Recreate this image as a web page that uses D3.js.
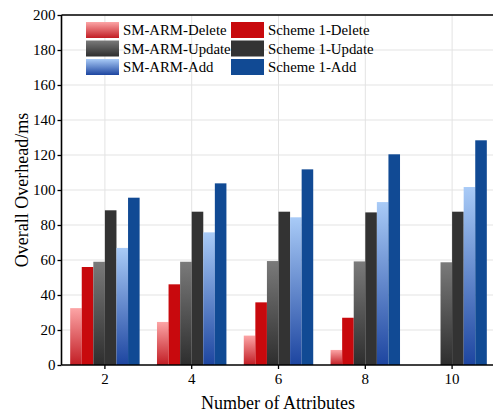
<!DOCTYPE html>
<html><head><meta charset="utf-8">
<script src="https://cdn.jsdelivr.net/npm/d3@7"></script>
<style>body{margin:0;background:#fff;} svg{display:block;}</style>
</head><body>
<script>
const categories = ["2", "4", "6", "8", "10"];
const seriesNames = ["SM-ARM-Delete", "Scheme 1-Delete", "SM-ARM-Update", "Scheme 1-Update", "SM-ARM-Add", "Scheme 1-Add"];
const smDelete = [32.5, 24.6, 16.8, 8.6, 0];
const s1Delete = [56, 46.1, 35.8, 27, 0];
const smUpdate = [59, 59, 59.4, 59.2, 58.7];
const s1Update = [88.4, 87.6, 87.6, 87.2, 87.6];
const smAdd = [66.9, 75.8, 84.4, 93.1, 101.7];
const s1Add = [95.6, 103.8, 111.8, 120.4, 128.4];
const yTicks = [0, 20, 40, 60, 80, 100, 120, 140, 160, 180, 200];
const legendOrder = ["SM-ARM-Delete", "SM-ARM-Update", "SM-ARM-Add", "Scheme 1-Delete", "Scheme 1-Update", "Scheme 1-Add"];

const seriesValues = [smDelete, s1Delete, smUpdate, s1Update, smAdd, s1Add];
const W = 493, H = 415;
const m = {left: 61.5, right: -2.5, top: 15, bottom: 50};
const svg = d3.select("body").append("svg").attr("width", W).attr("height", H);
const defs = svg.append("defs");
const grads = [
  ["g0", "#fca5a6", "#c21d24"],
  ["g2", "#7a7a7a", "#2e2e2e"],
  ["g4", "#a9cbf7", "#1d45a0"]
];
grads.forEach(([id, c1, c2]) => {
  const g = defs.append("linearGradient").attr("id", id).attr("x1", 0).attr("y1", 0).attr("x2", 0).attr("y2", 1);
  g.append("stop").attr("offset", "0%").attr("stop-color", c1);
  g.append("stop").attr("offset", "100%").attr("stop-color", c2);
});
const fills = {"SM-ARM-Delete": "url(#g0)", "Scheme 1-Delete": "#c8090d", "SM-ARM-Update": "url(#g2)",
  "Scheme 1-Update": "#333333", "SM-ARM-Add": "url(#g4)", "Scheme 1-Add": "#114a94"};

const x0 = d3.scaleBand().domain(categories).range([m.left, W - m.right]).paddingInner(0).paddingOuter(0);
const x1 = d3.scaleBand().domain(seriesNames).range([0, x0.bandwidth() * 0.8]);
const y = d3.scaleLinear().domain([0, 200]).range([H - m.bottom, m.top]);

const font = "'Liberation Serif', 'Times New Roman', serif";
// grid
svg.append("g").selectAll("line").data(yTicks.slice(1)).join("line")
  .attr("x1", m.left).attr("x2", W).attr("y1", d => y(d)).attr("y2", d => y(d))
  .attr("stroke", "#e3e3e3").attr("stroke-width", 1);
svg.append("g").selectAll("line").data(categories).join("line")
  .attr("x1", d => x0(d) + x0.bandwidth() / 2).attr("x2", d => x0(d) + x0.bandwidth() / 2)
  .attr("y1", m.top).attr("y2", H - m.bottom)
  .attr("stroke", "#e3e3e3").attr("stroke-width", 1);

// bars
const groups = svg.append("g").selectAll("g").data(categories).join("g")
  .attr("transform", d => `translate(${x0(d) + x0.bandwidth() * 0.1},0)`);
groups.selectAll("rect").data((c, i) => seriesNames.map((s, j) => ({s, v: seriesValues[j][i]})))
  .join("rect")
  .attr("x", d => x1(d.s)).attr("width", x1.bandwidth())
  .attr("y", d => y(d.v)).attr("height", d => y(0) - y(d.v))
  .attr("fill", d => fills[d.s]);

// axes
const yAxis = svg.append("g").attr("transform", `translate(${m.left},0)`)
  .call(d3.axisLeft(y).tickValues(yTicks).tickSize(4).tickPadding(2).tickFormat(d3.format("d")));
const xAxis = svg.append("g").attr("transform", `translate(0,${H - m.bottom})`)
  .call(d3.axisBottom(x0).tickSize(4).tickPadding(4));
[yAxis, xAxis].forEach(a => {
  a.select(".domain").attr("stroke", "#000").attr("stroke-width", 1.6);
  a.selectAll(".tick line").attr("stroke", "#000").attr("stroke-width", 1.3);
  a.selectAll("text").attr("font-family", font).attr("font-size", 15).attr("fill", "#000");
});
yAxis.select(".domain").attr("d", `M0,${H - m.bottom}V${m.top}`);
xAxis.select(".domain").attr("d", `M${m.left},0H${W}`);
// top frame
svg.append("line").attr("x1", m.left).attr("x2", W).attr("y1", m.top).attr("y2", m.top)
  .attr("stroke", "#000").attr("stroke-width", 1.6);

// titles
svg.append("text").attr("x", 278).attr("y", 409).attr("text-anchor", "middle")
  .attr("font-family", font).attr("font-size", 18).text("Number of Attributes");
svg.append("text").attr("transform", `translate(28,${(m.top + H - m.bottom) / 2}) rotate(-90)`)
  .attr("text-anchor", "middle").attr("font-family", font).attr("font-size", 18).text("Overall Overhead/ms");

// legend
const leg = svg.append("g");
legendOrder.forEach((s, i) => {
  const col = Math.floor(i / 3), row = i % 3;
  const lx = 86 + col * 145, ly = 22 + row * 18.5;
  leg.append("rect").attr("x", lx).attr("y", ly).attr("width", 33).attr("height", 16).attr("fill", fills[s]);
  leg.append("text").attr("x", lx + 37).attr("y", ly + 13).attr("font-family", font).attr("font-size", 14.8).text(s);
});
</script>
</body></html>
